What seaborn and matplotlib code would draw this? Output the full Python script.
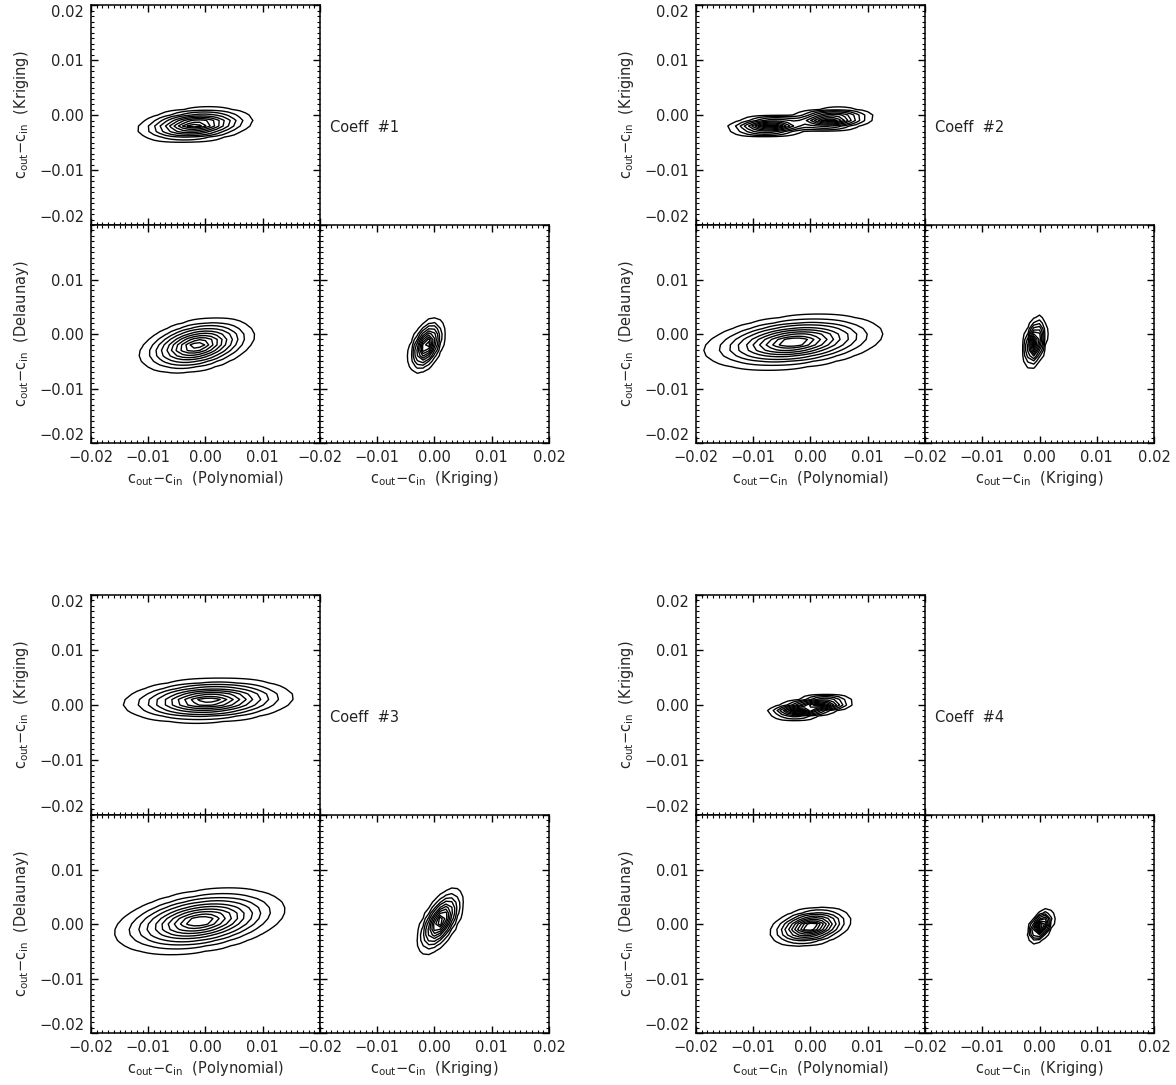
import numpy as np
import matplotlib
matplotlib.use("Agg")
import matplotlib.pyplot as plt
import seaborn as sns

sns.set_style("ticks")
plt.rcParams["font.family"] = ["DejaVu Sans"]
plt.rcParams["mathtext.fontset"] = "dejavusans"
plt.rcParams["font.size"] = 10.5
plt.rcParams["text.color"] = "#222222"

# coefficient names
coeff_labels = ["Coeff  #1", "Coeff  #2", "Coeff  #3", "Coeff  #4"]

# axis names
x_names = ["Polynomial", "Kriging"]
y_names = ["Kriging", "Delaunay"]

# ticks
tick_vals = [-0.02, -0.01, 0.00, 0.01, 0.02]
tick_text = ["\u22120.02", "\u22120.01", "0.00", "0.01", "0.02"]

# contour blobs, one list per panel:
# (weight, centre x, centre y, outer half-width x, outer half-width y, correlation)
c1_pk = [(1.0, -0.0018, -0.0018, 0.0100, 0.0031, 0.25)]
c1_pd = [(1.0, -0.0015, -0.0021, 0.0100, 0.0050, 0.35)]
c1_kd = [(1.0, -0.0014, -0.0021, 0.0031, 0.0050, 0.45)]

c2_pk = [(1.0, -0.0070, -0.0020, 0.0075, 0.0018, 0.20),
         (1.0, 0.0035, -0.0008, 0.0075, 0.0020, 0.20)]
c2_pd = [(1.0, -0.0030, -0.0015, 0.0155, 0.0050, 0.30)]
c2_kd = [(1.0, -0.0008, -0.0015, 0.0020, 0.0048, 0.35)]

c3_pk = [(1.0, 0.0005, 0.0008, 0.0148, 0.0040, 0.15)]
c3_pd = [(1.0, -0.0010, 0.0005, 0.0148, 0.0060, 0.35)]
c3_kd = [(1.0, 0.0010, 0.0005, 0.0040, 0.0060, 0.60)]

c4_pk = [(1.0, -0.0020, -0.0010, 0.0055, 0.0015, 0.20),
         (1.0, 0.0020, 0.0002, 0.0055, 0.0015, 0.20)]
c4_pd = [(1.0, 0.0000, -0.0005, 0.0070, 0.0035, 0.30)]
c4_kd = [(1.0, 0.0002, -0.0004, 0.0022, 0.0030, 0.50)]

panels = [(c1_pk, c1_pd, c1_kd), (c2_pk, c2_pd, c2_kd),
          (c3_pk, c3_pd, c3_kd), (c4_pk, c4_pd, c4_kd)]

# contour radii (in sigma units), outermost first
radii = [2.6, 2.15, 1.85, 1.6, 1.35, 1.15, 0.95, 0.75, 0.55, 0.35]
R_OUT = radii[0]

# coarse grid, like the binned original
g = np.arange(-0.02, 0.02001, 0.001)
X, Y = np.meshgrid(g, g)


def density(blobs):
    z = np.zeros_like(X)
    for w, mx, my, hx, hy, rho in blobs:
        sx, sy = hx / R_OUT, hy / R_OUT
        u, v = (X - mx) / sx, (Y - my) / sy
        q = (u * u - 2 * rho * u * v + v * v) / (1 - rho * rho)
        z += w * np.exp(-0.5 * q)
    return z


W, H = 1176, 1085
fig = plt.figure(figsize=(W / 100, H / 100), dpi=100)


def add_panel(left, top, w, h):
    return fig.add_axes([left / W, 1 - (top + h) / H, w / W, h / H])


def style(ax, xlab, ylab, top_panel):
    ax.set_xlim(-0.02, 0.02)
    ax.set_ylim(-0.02, 0.02)
    ax.set_xticks(np.arange(-0.02, 0.0201, 0.001), minor=True)
    ax.set_yticks(np.arange(-0.02, 0.0201, 0.001), minor=True)
    ax.tick_params(which="both", direction="in", top=True, right=True,
                   colors="k", labelcolor="#222222")
    ax.tick_params(which="major", length=5, width=1.0, pad=5)
    ax.tick_params(which="minor", length=2.5, width=0.8)
    for s in ax.spines.values():
        s.set_linewidth(1.1)
        s.set_color("k")
    # x labels
    if xlab == 0:
        ax.set_xticks(tick_vals[:-1], tick_text[:-1])
    elif xlab == 1:
        ax.set_xticks(tick_vals, tick_text)
    else:
        ax.set_xticks(tick_vals, [""] * 5)
    # y labels
    if ylab is None:
        ax.set_yticks(tick_vals, [""] * 5)
    elif top_panel:
        ax.set_yticks(tick_vals, tick_text)
        labs = ax.get_yticklabels()
        labs[0].set_va("bottom")
        labs[-1].set_va("top")
    else:
        ax.set_yticks(tick_vals[:-1], tick_text[:-1])
        ax.get_yticklabels()[0].set_va("bottom")


def name(n):
    return r"$\mathregular{c_{out}}{-}\mathregular{c_{in}}$  (" + n + ")"


col_left = [91, 696]
row_top = [5, 595]
pw, ph_top, ph_bot = 229, 220, 218

for i, (pk, pd, kd) in enumerate(panels):
    x0 = col_left[i % 2]
    y0 = row_top[i // 2]

    ax_pk = add_panel(x0, y0, pw, ph_top)
    ax_pd = add_panel(x0, y0 + ph_top, pw, ph_bot)
    ax_kd = add_panel(x0 + pw, y0 + ph_top, pw, ph_bot)

    for ax, blobs in ((ax_pk, pk), (ax_pd, pd), (ax_kd, kd)):
        z = density(blobs)
        lev = sorted(z.max() * np.exp(-0.5 * np.array(radii) ** 2))
        ax.contour(X, Y, z, levels=lev, colors="k", linewidths=1.0)

    style(ax_pk, None, 0, True)
    style(ax_pd, 0, 1, False)
    style(ax_kd, 1, None, False)

    ax_pk.set_ylabel(name(y_names[0]), labelpad=6)
    ax_pd.set_ylabel(name(y_names[1]), labelpad=6)
    ax_pd.set_xlabel(name(x_names[0]), labelpad=3)
    ax_kd.set_xlabel(name(x_names[1]), labelpad=3)

    ax_pk.text(1.045, 0.445, coeff_labels[i], transform=ax_pk.transAxes,
               va="center", ha="left")

fig.savefig("out.png", dpi=100)
